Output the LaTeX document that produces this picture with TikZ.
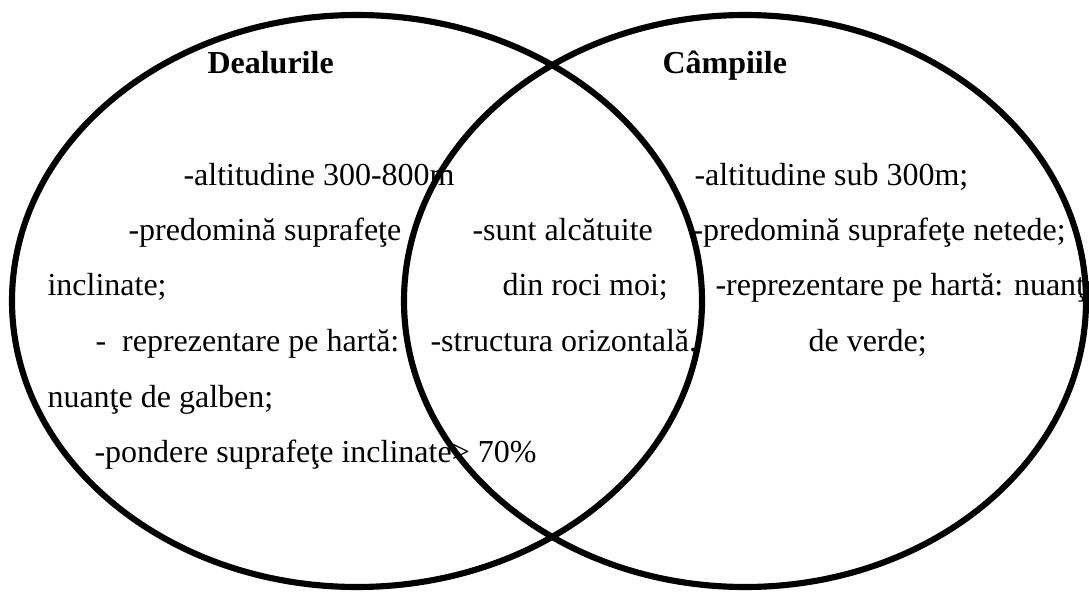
\documentclass[tikz,border=0pt]{standalone}
\usepackage{fontspec}
\setmainfont{Liberation Serif}
\usetikzlibrary{positioning}

\begin{document}
\begin{tikzpicture}[x=0.375pt, y=-0.375pt,
  ring/.style={draw=black, line width=2.3pt},
  heading/.style={anchor=base west, inner sep=0pt, font=\fontsize{12}{14}\selectfont\bfseries},
  entry/.style={anchor=base west, inner sep=0pt, font=\fontsize{12}{14}\selectfont}
]
\useasboundingbox (0,0) rectangle (1089,592);

% Dealurile (left set)
\node[heading] (dealuri) at (207,74) {Dealurile};
\node[entry] (d1) at (183,185) {-altitudine  300-800m};
\node[entry] (d2) at (128,240) {-predomină suprafeţe};
\node[entry] (d3) at (47,295) {inclinate;};
\node[entry] (d4) at (95,351) {-\ \ reprezentare pe hartă:};
\node[entry] (d5) at (47,407) {nuanţe de galben;};
\node[entry] (d6) at (94,462) {-pondere suprafeţe inclinate> 70\%};

% Common part
\node[entry] (c1) at (472,240) {-sunt alcătuite};
\node[entry] (c2) at (502,295) {din roci moi;};
\node[entry] (c3) at (430,351) {-structura orizontală.};

% Câmpiile (right set)
\node[heading] (campii) at (662,74) {Câmpiile};
\node[entry] (p1) at (694,185) {-altitudine sub 300m;};
\node[entry] (p2) at (692,240) {-predomină suprafeţe netede;};
\node[entry] (p3) at (715,295) {-reprezentare pe hartă: nuanţe};
\node[entry] (p4) at (808,351) {de verde;};

% The two rings
\draw[ring] (357,301) ellipse [x radius=345, y radius=286];
\draw[ring] (745,301) ellipse [x radius=341, y radius=286];

\end{tikzpicture}
\end{document}
